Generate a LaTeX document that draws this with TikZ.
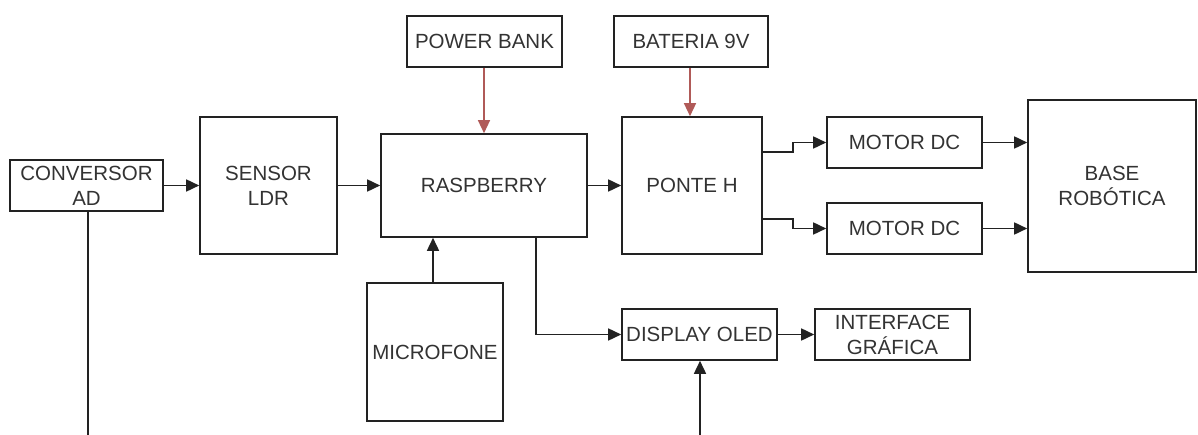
\documentclass[tikz,border=0pt]{standalone}
\usepackage{fontspec}
\setmainfont{Liberation Sans}
\usetikzlibrary{arrows.meta}
\definecolor{boxline}{HTML}{222222}
\definecolor{txt}{HTML}{333333}
\definecolor{pwr}{HTML}{B05A58}
\tikzset{
  blk/.style={draw=boxline, line width=1.6pt, fill=white, inner sep=0pt, align=center,
    text=txt, font=\fontsize{20.5}{25}\selectfont},
  con/.style={draw=boxline, line width=1.6pt, -{Triangle[length=13pt,width=12pt]}},
  pcon/.style={draw=pwr, line width=1.4pt, -{Triangle[length=13pt,width=12pt]}},
  line/.style={draw=boxline, line width=1.6pt},
}
\newcommand{\blkbox}[6]{\node[blk, minimum width=#4-#2, minimum height=#5-#3] (#1) at ({(#2+#4)/2},{(#3+#5)/2}) {#6};}
\begin{document}
\begin{tikzpicture}[x=1pt,y=-1pt]
\useasboundingbox (0,0) rectangle (1198,435);
\blkbox{conv}{10}{160}{163}{211}{CONVERSOR\\AD}
\blkbox{ldr}{200}{117}{337}{254}{SENSOR\\LDR}
\blkbox{rasp}{381}{134}{587}{237}{RASPBERRY}
\blkbox{pb}{407}{16}{562}{67}{POWER BANK}
\blkbox{bat}{614}{16}{768}{67}{BATERIA 9V}
\blkbox{ponte}{622}{117}{762}{254}{PONTE H}
\blkbox{m1}{827}{117}{982}{168}{MOTOR DC}
\blkbox{m2}{827}{203}{982}{254}{MOTOR DC}
\blkbox{base}{1028}{100}{1196}{272}{BASE\\ROBÓTICA}
\blkbox{mic}{367}{283}{503}{421}{MICROFONE}
\blkbox{oled}{622}{309}{777}{360}{DISPLAY OLED}
\blkbox{gui}{815}{309}{970}{360}{INTERFACE\\GRÁFICA}

\coordinate (bl) at (88,436);
\coordinate (br) at (700,436);

\draw[con] (conv.east) -- (ldr.west |- conv.east);
\draw[con] (ldr.east |- conv.east) -- (rasp.west |- conv.east);
\draw[con] (rasp.east |- conv.east) -- (ponte.west |- conv.east);
\draw[pcon] (pb.south -| 484,0) -- (rasp.north -| 484,0);
\draw[pcon] (bat.south -| 690,0) -- (ponte.north -| 690,0);
\draw[con] (ponte.east |- 0,152) -- (793,152) -- (793,142.5) -- (m1.west);
\draw[con] (ponte.east |- 0,219) -- (793,219) -- (793,228.5) -- (m2.west);
\draw[con] (m1.east) -- (base.west |- m1.east);
\draw[con] (m2.east) -- (base.west |- m2.east);
\draw[con] (mic.north -| 433,0) -- (rasp.south -| 433,0);
\draw[con] (rasp.south -| 536,0) |- (oled.west);
\draw[con] (oled.east) -- (gui.west);
\draw[line] (conv.south -| bl) -- (bl);
\draw[con] (br) -- (oled.south -| br);
\end{tikzpicture}
\end{document}
